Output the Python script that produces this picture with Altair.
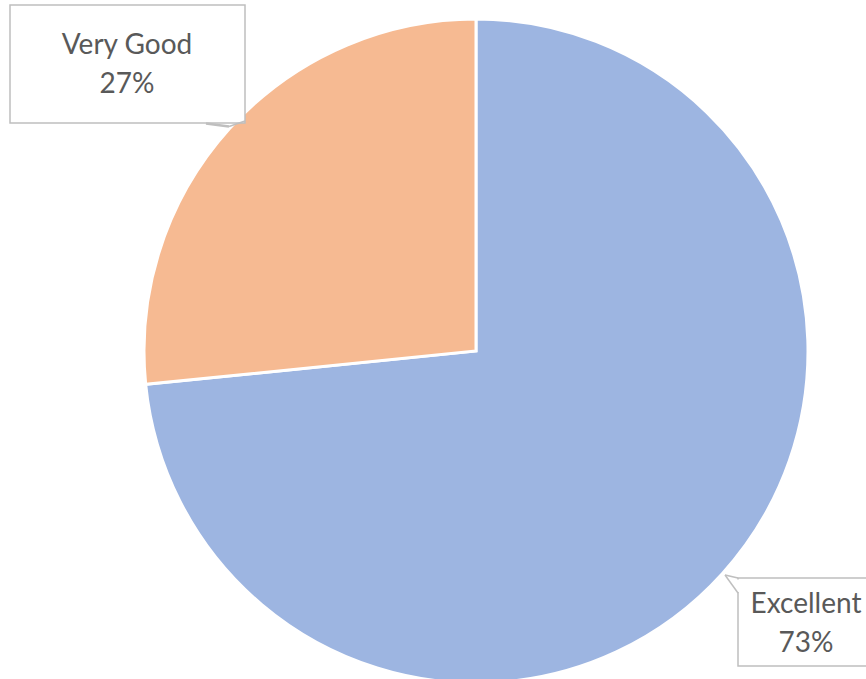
import altair as alt
import pandas as pd

categories = ["Excellent", "Very Good"]
shares = [0.734, 0.266]
slice_order = [0, 1]
colors = ["#9db5e1", "#f6ba92"]

df = pd.DataFrame({"category": categories, "share": shares, "order": slice_order})

FONT = "Lato"
TXT = "#595959"
BOX = "#bfbfbf"

base = alt.Chart(df)

pie = base.mark_arc(outerRadius=332, stroke="white", strokeWidth=3).encode(
    theta=alt.Theta("share:Q", stack=True),
    color=alt.Color("category:N", scale=alt.Scale(domain=categories, range=colors), legend=None),
    order=alt.Order("order:Q"),
    x=alt.value(476),
    y=alt.value(351),
)

labelled = base.transform_calculate(
    label="[datum.category, format(datum.share, '.0%')]"
)

def box(cat, x, x2, y, y2):
    return labelled.transform_filter(alt.datum.category == cat).mark_rect(
        fill="white", stroke=BOX, strokeWidth=1.5
    ).encode(x=alt.value(x), x2=alt.value(x2), y=alt.value(y), y2=alt.value(y2))

def label(cat, x, y):
    return labelled.transform_filter(alt.datum.category == cat).mark_text(
        font=FONT, fontSize=28, color=TXT, align="center", baseline="middle", lineHeight=39
    ).encode(text="label:N", x=alt.value(x), y=alt.value(y))

def seg(cat, x, y, x2, y2, color=BOX, w=1.5):
    return labelled.transform_filter(alt.datum.category == cat).mark_rule(
        stroke=color, strokeWidth=w
    ).encode(x=alt.value(x), y=alt.value(y), x2=alt.value(x2), y2=alt.value(y2))

chart = alt.layer(
    pie,
    box("Very Good", 10, 245, 5, 123),
    seg("Very Good", 206, 123.5, 229, 126.5, w=2.5),
    seg("Very Good", 229, 126.5, 245, 121),
    label("Very Good", 127, 46),
    box("Excellent", 738, 880, 578, 666),
    seg("Excellent", 738, 579.5, 738, 592, color="white", w=3),
    seg("Excellent", 725, 575, 738, 578),
    seg("Excellent", 725, 575, 738, 593),
    label("Excellent", 806, 605),
).properties(
    width=866, height=679, autosize=alt.AutoSizeParams(type="none"), padding=0
).configure_view(stroke=None)

chart.save("out.html", embed_options={"renderer": "svg", "actions": False})
